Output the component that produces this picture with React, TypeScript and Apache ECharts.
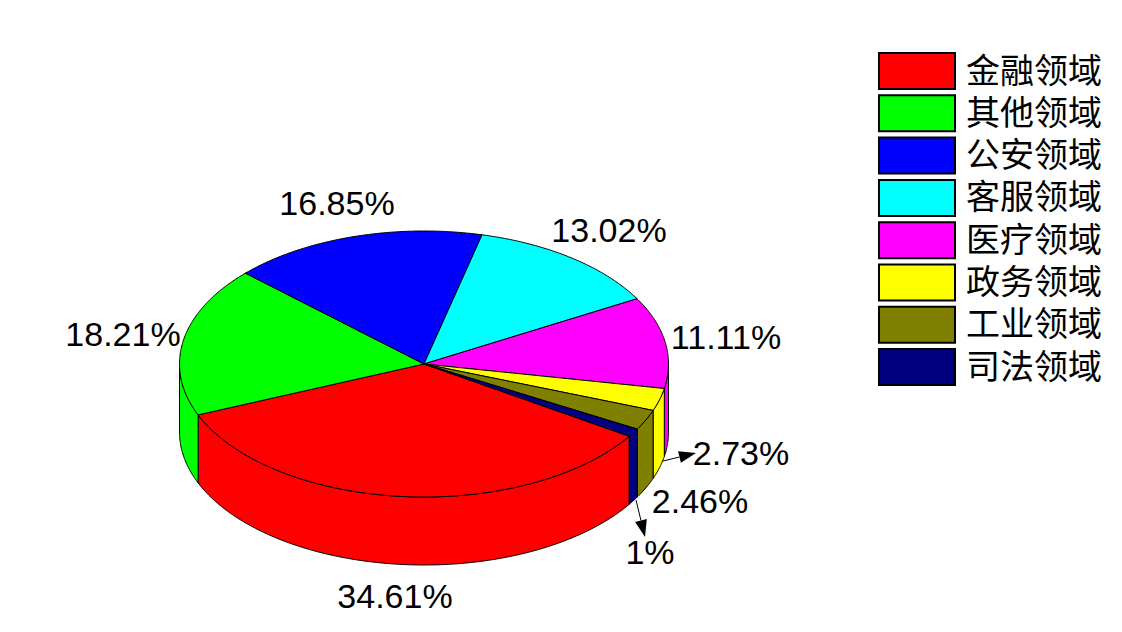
import React, { useEffect, useRef } from "react";
import * as echarts from "echarts";

const names = ["金融领域", "其他领域", "公安领域", "客服领域", "医疗领域", "政务领域", "工业领域", "司法领域"];
const values = [34.61, 18.21, 16.85, 13.02, 11.11, 2.73, 2.46, 1];
const labels = ["34.61%", "18.21%", "16.85%", "13.02%", "11.11%", "2.73%", "2.46%", "1%"];
const colors = ["#ff0000", "#00ff00", "#0000ff", "#00ffff", "#ff00ff", "#ffff00", "#808000", "#000080"];

// Layout only (pixels on the page)
const pie = { cx: 424, cy: 364, rx: 244.5, ry: 133, depth: 68, startDeg: 32.9 };
const labelCenters: [number, number][] = [
  [395, 596], [123, 334], [337, 203], [609, 230], [726, 337], [741, 453], [700, 501], [650, 552],
];
const leaders: (number[] | null)[] = [
  null, null, null, null, null, [663, 461, 696, 453], null, [636, 500, 645, 537],
];

const total = values.reduce((a, b) => a + b, 0);
const rad = (d: number) => (d * Math.PI) / 180;
const pt = (deg: number, dy = 0): [number, number] => [
  pie.cx + pie.rx * Math.cos(rad(deg)),
  pie.cy + pie.ry * Math.sin(rad(deg)) + dy,
];
const arc = (from: number, to: number, dy = 0): [number, number][] => {
  const pts: [number, number][] = [];
  const n = Math.max(2, Math.ceil(Math.abs(to - from) * 2));
  for (let i = 0; i <= n; i++) pts.push(pt(from + ((to - from) * i) / n, dy));
  return pts;
};

const sliceRange = (idx: number): [number, number] => {
  let a = pie.startDeg;
  for (let i = 0; i < idx; i++) a += (values[i] / total) * 360;
  return [a, a + (values[idx] / total) * 360];
};

const makeRenderItem = (idx: number) => () => {
  const [a, b] = sliceRange(idx);
  const children: any[] = [];
  const style = { fill: colors[idx], stroke: "#000", lineWidth: 1 };
  // side wall: only the front half of the disc (0..180 degrees, modulo 360) is visible
  for (const off of [0, 360]) {
    const from = Math.max(a, off);
    const to = Math.min(b, off + 180);
    if (to > from) {
      children.push({
        type: "polygon",
        shape: { points: [...arc(from, to, 0), ...arc(to, from, pie.depth)] },
        style,
      });
    }
  }
  // top face
  children.push({
    type: "polygon",
    shape: { points: [[pie.cx, pie.cy], ...arc(a, b, 0)] },
    style,
  });
  // leader with arrow head
  const lead = leaders[idx];
  if (lead) {
    const [x1, y1, x2, y2] = lead;
    const len = Math.hypot(x2 - x1, y2 - y1);
    const ux = (x2 - x1) / len;
    const uy = (y2 - y1) / len;
    const bx = x2 - ux * 17;
    const by = y2 - uy * 17;
    children.push({
      type: "line",
      shape: { x1, y1, x2: bx, y2: by },
      style: { stroke: "#000", lineWidth: 1 },
    });
    children.push({
      type: "polygon",
      shape: {
        points: [
          [x2, y2],
          [bx - uy * 6, by + ux * 6],
          [bx + uy * 6, by - ux * 6],
        ],
      },
      style: { fill: "#000" },
    });
  }
  // percentage label
  const [tx, ty] = labelCenters[idx];
  children.push({
    type: "text",
    x: tx,
    y: ty,
    style: {
      text: labels[idx],
      fill: "#000",
      font: '34px "Liberation Sans", Arial, sans-serif',
      align: "center",
      verticalAlign: "middle",
    },
  });
  return { type: "group", children };
};

export default function App() {
  const ref = useRef<HTMLDivElement>(null);
  useEffect(() => {
    document.body.style.margin = "0";
    const chart = echarts.init(ref.current!, undefined, { renderer: "svg" });
    chart.setOption({
      animation: false,
      backgroundColor: "#ffffff",
      legend: {
        data: names,
        orient: "vertical",
        left: 878,
        top: 52,
        padding: 0,
        itemWidth: 76,
        itemHeight: 36,
        itemGap: 4.3,
        icon: "rect",
        selectedMode: false,
        itemStyle: { borderColor: "#000", borderWidth: 2 },
        formatter: "{t|{name}}",
        textStyle: {
          rich: {
            t: {
              fontFamily: '"Liberation Sans", "Noto Sans CJK SC", sans-serif',
              fontSize: 34,
              lineHeight: 34,
              color: "#000",
              padding: [0, 0, 1, 6],
            },
          },
        },
      },
      series: names.map((name, i) => ({
        type: "custom",
        name,
        coordinateSystem: "none",
        silent: true,
        itemStyle: { color: colors[i] },
        data: [[values[i]]],
        renderItem: makeRenderItem(i),
      })),
    });
    return () => chart.dispose();
  }, []);
  return <div ref={ref} style={{ position: "fixed", left: 0, top: 0, width: 1122, height: 632 }} />;
}
